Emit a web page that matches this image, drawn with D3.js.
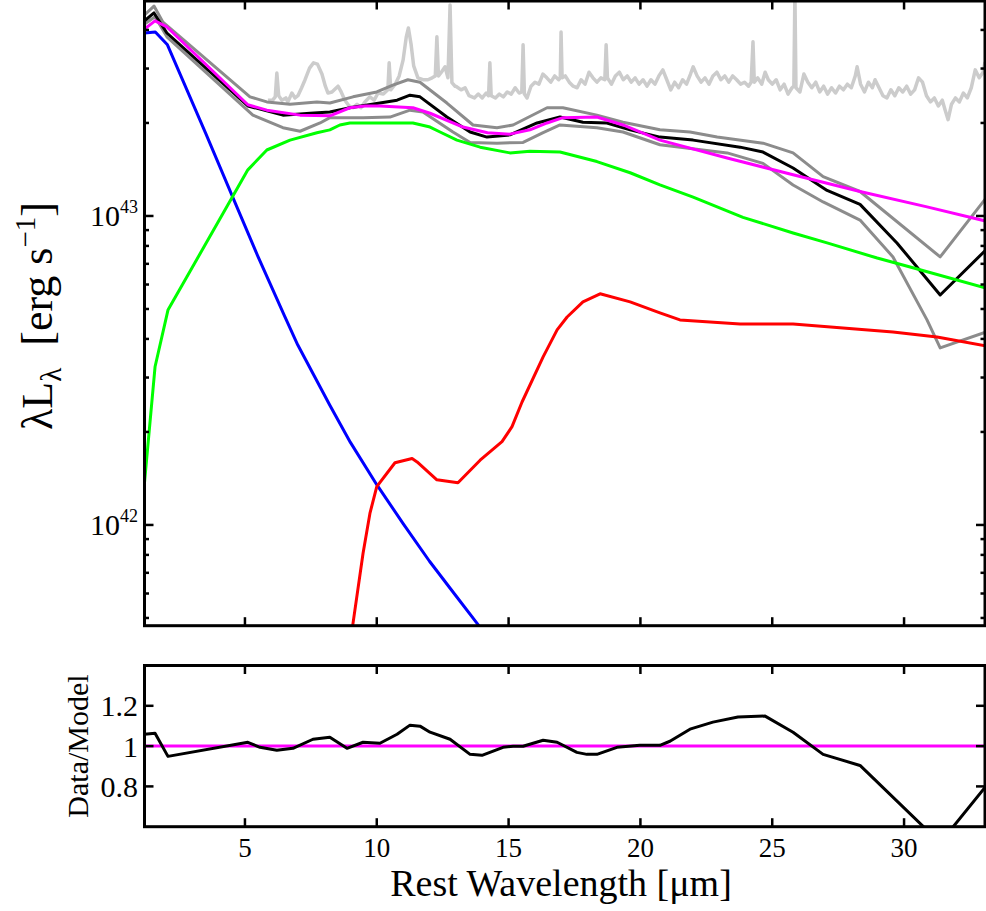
<!DOCTYPE html>
<html>
<head>
<meta charset="utf-8">
<script src="https://cdnjs.cloudflare.com/ajax/libs/d3/7.8.5/d3.min.js"></script>
<style>
  body { margin: 0; background: #fff; }
  text { font-family: "Liberation Serif", "DejaVu Serif", serif; fill: #000; }
</style>
</head>
<body>
<div id="chart"></div>
<script>
// luminosities are lambda*L_lambda in units of 1e43 erg/s, wavelengths in micron

// IRS spectrum (light grey)
var irsWave = [5.87, 6.05, 6.15, 6.21, 6.28, 6.40, 6.55, 6.63, 6.78, 6.9, 7.01, 7.15, 7.28, 7.45, 7.6, 7.75, 7.92, 8.05, 8.15, 8.3, 8.53, 8.65, 8.79, 8.95, 9.1, 9.25, 9.4, 9.55, 9.74, 9.9, 10.05, 10.25, 10.42, 10.47, 10.53, 10.7, 10.85, 11.0, 11.12, 11.2, 11.3, 11.4, 11.56, 11.75, 11.94, 12.1, 12.22, 12.28, 12.34, 12.45, 12.59, 12.7, 12.78, 12.85, 12.97,
  13.0, 13.2, 13.35, 13.5, 13.7, 13.85, 14.0, 14.15, 14.24, 14.29, 14.34, 14.5, 14.65, 14.8, 14.95, 15.1, 15.25, 15.4, 15.5, 15.55, 15.6, 15.7, 15.85, 16.0, 16.15, 16.3, 16.45, 16.6, 16.75, 16.9, 16.96, 16.99, 17.03, 17.15, 17.3, 17.45, 17.6, 17.75, 17.9, 18.05, 18.2, 18.35, 18.5, 18.65, 18.7, 18.75, 18.9, 19.05, 19.2, 19.35, 19.5, 19.65, 19.8, 19.95,
  20.1, 20.25, 20.4, 20.55, 20.7, 20.85, 21.0, 21.15, 21.3, 21.45, 21.6, 21.75, 21.9, 22.0, 22.15, 22.3, 22.45, 22.6, 22.75, 22.9, 23.05, 23.2, 23.35, 23.5, 23.65, 23.8, 23.95, 24.1, 24.2, 24.27, 24.32, 24.45, 24.6, 24.73, 24.85, 25.0, 25.15, 25.3, 25.45, 25.6, 25.75, 25.82, 25.86, 25.9, 26.05, 26.2, 26.35, 26.5, 26.65, 26.8, 26.95,
  27.1, 27.25, 27.4, 27.55, 27.7, 27.85, 28.0, 28.15, 28.22, 28.35, 28.5, 28.65, 28.8, 28.9, 29.05, 29.2, 29.35, 29.5, 29.65, 29.8, 29.95, 30.1, 30.25, 30.4, 30.55, 30.7, 30.85, 31.0, 31.15, 31.3, 31.45, 31.56, 31.67, 31.8, 31.95, 32.1, 32.25, 32.4, 32.55, 32.7, 32.85, 33.0, 33.07];
var irsLum = [2.37, 2.37, 2.43, 2.90, 2.45, 2.37, 2.41, 2.34, 2.50, 2.41, 2.45, 2.60, 2.76, 3.01, 3.13, 3.10, 2.88, 2.63, 2.50, 2.52, 2.63, 2.52, 2.37, 2.27, 2.24, 2.30, 2.24, 2.34, 2.43, 2.37, 2.50, 2.48, 2.56, 3.13, 2.56, 2.67, 2.84, 3.2, 3.8, 4.06, 3.6, 3.06, 2.80, 2.76, 2.76, 2.80, 2.84, 3.80, 2.84, 2.92, 3.04, 2.80, 4.82, 2.70, 2.63,
  2.63, 2.56, 2.60, 2.45, 2.41, 2.48, 2.41, 2.50, 2.45, 3.13, 2.45, 2.41, 2.48, 2.43, 2.52, 2.48, 2.60, 2.50, 2.52, 3.58, 2.48, 2.41, 2.63, 2.71, 2.67, 2.88, 2.80, 2.71, 2.84, 2.76, 2.80, 3.94, 2.80, 2.84, 2.71, 2.63, 2.60, 2.76, 2.67, 2.92, 2.80, 2.71, 2.80, 2.76, 3.58, 2.80, 2.67, 2.84, 2.92, 2.76, 2.84, 2.71, 2.80, 2.67,
  2.76, 2.63, 2.76, 2.67, 2.84, 2.97, 2.76, 2.56, 2.71, 2.60, 2.76, 2.67, 2.88, 3.04, 2.84, 2.71, 2.80, 2.67, 2.84, 2.92, 2.76, 2.84, 2.71, 2.84, 2.76, 2.67, 2.71, 2.63, 2.71, 3.66, 2.71, 2.80, 2.67, 2.92, 2.76, 2.67, 2.76, 2.56, 2.67, 2.48, 2.60, 2.63, 5.3, 2.60, 2.52, 2.88, 2.71, 2.60, 2.71, 2.52, 2.63,
  2.48, 2.60, 2.50, 2.63, 2.56, 2.67, 2.60, 2.84, 3.04, 2.67, 2.52, 2.71, 2.60, 2.76, 2.60, 2.45, 2.41, 2.56, 2.45, 2.60, 2.52, 2.63, 2.48, 2.56, 2.80, 2.71, 2.45, 2.34, 2.41, 2.27, 2.37, 2.20, 2.05, 2.30, 2.41, 2.34, 2.50, 2.41, 2.60, 2.97, 2.80, 2.92, 3.15];

// photometric SED (black) and its upper / lower envelopes (grey)
var sedWave = [1.19, 1.55, 2.04, 5.11, 6.44, 7.47, 8.22, 8.98, 10.12, 10.77, 11.26, 11.64, 12.66, 13.54, 14.18, 15.05, 16.08, 16.95, 17.82, 18.73, 19.61, 20.74, 22.0, 23.78, 24.65, 25.79, 27.08, 28.33, 29.73, 31.37, 33.1];
var sedLum = [4.28, 4.54, 3.91, 2.27, 2.12, 2.15, 2.17, 2.24, 2.32, 2.37, 2.46, 2.43, 2.09, 1.87, 1.80, 1.83, 2.00, 2.09, 2.01, 2.00, 1.90, 1.80, 1.76, 1.67, 1.61, 1.43, 1.21, 1.09, 0.818, 0.555, 0.776];

var upperWave = [1.19, 1.55, 1.89, 5.19, 5.83, 6.71, 7.73, 8.22, 9.10, 10.0, 10.61, 11.18, 11.64, 12.66, 13.65, 14.56, 15.17, 16.46, 17.06, 18.35, 19.34, 20.74, 21.88, 22.91, 24.65, 25.79, 26.93, 28.33, 31.37, 33.1];
var upperLum = [4.47, 4.78, 4.24, 2.43, 2.34, 2.30, 2.34, 2.32, 2.43, 2.52, 2.65, 2.76, 2.71, 2.32, 1.97, 1.93, 1.97, 2.24, 2.24, 2.12, 2.01, 1.90, 1.87, 1.80, 1.72, 1.60, 1.34, 1.20, 0.737, 1.14];

var lowerWave = [1.19, 1.59, 2.04, 5.30, 6.44, 7.09, 7.85, 8.22, 9.48, 10.50, 11.26, 11.75, 12.89, 13.54, 14.56, 15.55, 16.31, 16.95, 18.35, 19.34, 20.74, 23.29, 24.65, 25.79, 26.93, 28.33, 29.58, 30.87, 31.37, 33.1];
var lowerLum = [4.18, 4.41, 3.80, 2.12, 1.93, 1.88, 2.00, 2.08, 2.08, 2.09, 2.20, 2.17, 1.87, 1.73, 1.72, 1.73, 1.86, 1.97, 1.93, 1.87, 1.70, 1.60, 1.48, 1.26, 1.11, 0.97, 0.737, 0.461, 0.374, 0.421];

// model components
var starWave = [1.19, 1.6, 2.06, 3.5, 4.5, 5.5, 6.5, 7.0, 8.22, 9.0, 10.0, 11.0, 12.0, 13.0, 13.9, 14.5];
var starLum = [3.91, 3.94, 3.58, 1.86, 1.17, 0.737, 0.475, 0.383, 0.244, 0.185, 0.135, 0.101, 0.0763, 0.0590, 0.0469, 0.0404];

var agnWave = [1.19, 1.59, 2.08, 5.11, 5.83, 6.71, 7.73, 8.22, 8.6, 8.98, 11.37, 12.02, 12.40, 13.04, 13.92, 15.05, 15.81, 16.95, 18.35, 19.61, 20.74, 22.0, 23.89, 25.79, 27.08, 28.98, 30.23, 33.07];
var agnLum = [0.137, 0.325, 0.496, 1.41, 1.635, 1.76, 1.86, 1.90, 1.97, 2.00, 2.00, 1.94, 1.87, 1.76, 1.67, 1.60, 1.62, 1.61, 1.50, 1.38, 1.26, 1.15, 0.99, 0.881, 0.818, 0.731, 0.684, 0.585];

var sfWave = [9.0, 9.09, 9.48, 9.74, 10.0, 10.69, 11.34, 11.53, 12.28, 13.08, 13.92, 14.75, 15.13, 15.51, 16.31, 16.84, 17.22, 17.82, 18.47, 19.61, 20.74, 21.50, 23.78, 25.79, 29.58, 31.25, 33.1];
var sfLum = [0.042, 0.0475, 0.081, 0.109, 0.133, 0.159, 0.164, 0.160, 0.140, 0.137, 0.162, 0.186, 0.208, 0.250, 0.350, 0.428, 0.471, 0.527, 0.560, 0.527, 0.486, 0.461, 0.447, 0.447, 0.421, 0.406, 0.380];

var totalWave = [1.19, 1.59, 2.04, 5.11, 5.83, 7.09, 8.22, 8.98, 9.55, 10.12, 11.37, 12.02, 13.27, 14.2, 15.05, 15.81, 16.46, 17.06, 18.35, 19.34, 20.74, 23.29, 25.79, 28.33, 30.87, 33.1];
var totalLum = [4.03, 4.28, 4.09, 2.29, 2.20, 2.12, 2.11, 2.24, 2.27, 2.27, 2.24, 2.15, 1.94, 1.86, 1.84, 1.90, 2.00, 2.08, 2.09, 1.97, 1.76, 1.54, 1.36, 1.20, 1.07, 0.963];

// data / model ratio
var ratioWave = [1.19, 1.59, 2.08, 5.11, 5.57, 6.21, 6.82, 7.58, 8.22, 8.87, 9.48, 10.12, 10.77, 11.26, 11.64, 12.02, 12.78, 13.54, 13.99, 14.79, 15.17, 15.55, 16.31, 16.84, 17.59, 17.97, 18.35, 19.11, 19.98, 20.74, 21.12, 21.88, 22.75, 23.70, 24.73, 25.79, 26.93, 28.33, 31.37, 33.1];
var ratioVal = [1.059, 1.064, 0.949, 1.019, 0.994, 0.979, 0.989, 1.034, 1.044, 0.989, 1.019, 1.014, 1.059, 1.104, 1.099, 1.069, 1.034, 0.959, 0.954, 0.994, 0.999, 0.999, 1.029, 1.019, 0.969, 0.959, 0.959, 0.994, 1.004, 1.004, 1.024, 1.084, 1.119, 1.144, 1.149, 1.069, 0.959, 0.904, 0.52, 0.80];

// ticks
var xTicks = [5, 10, 15, 20, 25, 30];
var yMajor = [0.1, 1];
var yMajorExp = ["42", "43"];
var yMinor = [0.05, 0.06, 0.07, 0.08, 0.09, 0.2, 0.3, 0.4, 0.5, 0.6, 0.7, 0.8, 0.9, 2, 3, 4, 5];
var ratioTicks = [0.8, 1, 1.2];
var ratioLabels = ["0.8", "1", "1.2"];

var svgWidth = 986;
var svgHeight = 911;

// panel edges
var left = 144.5, right = 985;
var top1 = 1, bottom1 = 625.7;
var top2 = 665.5, bottom2 = 826.7;

var svg = d3.select("#chart")
  .append("svg")
  .attr("width", svgWidth)
  .attr("height", svgHeight);

var x = d3.scaleLinear().domain([1.19, 33.07]).range([left, right]);
var y = d3.scaleLog().domain([0.0472, 5]).range([bottom1, 0]);
var yr = d3.scaleLinear().domain([0.6, 1.4]).range([bottom2, top2]);

var defs = svg.append("defs");
defs.append("clipPath").attr("id", "clipTop")
  .append("rect").attr("x", left).attr("y", top1).attr("width", right - left).attr("height", bottom1 - top1);
defs.append("clipPath").attr("id", "clipBot")
  .append("rect").attr("x", left).attr("y", top2).attr("width", right - left).attr("height", bottom2 - top2);

var topGroup = svg.append("g").attr("clip-path", "url(#clipTop)");
var botGroup = svg.append("g").attr("clip-path", "url(#clipBot)");

function drawLine(g, xs, ys, yScale, color, width) {
  var line = d3.line()
    .x(d => x(d[0]))
    .y(d => yScale(d[1]));
  g.append("path")
    .datum(d3.zip(xs, ys))
    .attr("d", line)
    .attr("fill", "none")
    .attr("stroke", color)
    .attr("stroke-width", width)
    .attr("stroke-linejoin", "round");
}

// top panel curves
drawLine(topGroup, irsWave, irsLum, y, "#cccccc", 3.5);
drawLine(topGroup, upperWave, upperLum, y, "#8c8c8c", 3);
drawLine(topGroup, lowerWave, lowerLum, y, "#8c8c8c", 3);
drawLine(topGroup, sedWave, sedLum, y, "#000000", 3);
drawLine(topGroup, starWave, starLum, y, "#0000ff", 3);
drawLine(topGroup, agnWave, agnLum, y, "#00ff00", 3);
drawLine(topGroup, sfWave, sfLum, y, "#ff0000", 3);
drawLine(topGroup, totalWave, totalLum, y, "#ff00ff", 3);

// bottom panel
botGroup.append("line")
  .attr("x1", left).attr("x2", right)
  .attr("y1", yr(1)).attr("y2", yr(1))
  .attr("stroke", "#ff00ff").attr("stroke-width", 3);
drawLine(botGroup, ratioWave, ratioVal, yr, "#000000", 3);

// frames
[[top1, bottom1], [top2, bottom2]].forEach(function(p) {
  svg.append("rect")
    .attr("x", left).attr("y", p[0])
    .attr("width", right - left).attr("height", p[1] - p[0])
    .attr("fill", "none").attr("stroke", "#000").attr("stroke-width", 3);
});

// x ticks, inward on both edges of both panels
[[top1, 1], [bottom1, -1], [top2, 1], [bottom2, -1]].forEach(function(e) {
  svg.append("g").selectAll("line")
    .data(xTicks).enter().append("line")
    .attr("x1", d => x(d)).attr("x2", d => x(d))
    .attr("y1", e[0]).attr("y2", e[0] + e[1] * 8.5)
    .attr("stroke", "#000").attr("stroke-width", 2.5);
});

// y ticks on left and right
[[left, 1], [right, -1]].forEach(function(e) {
  var g = svg.append("g");
  g.selectAll("line.major").data(yMajor).enter().append("line")
    .attr("x1", e[0]).attr("x2", e[0] + e[1] * 9)
    .attr("y1", d => y(d)).attr("y2", d => y(d))
    .attr("stroke", "#000").attr("stroke-width", 2.5);
  g.selectAll("line.minor").data(yMinor).enter().append("line")
    .attr("x1", e[0]).attr("x2", e[0] + e[1] * 4.5)
    .attr("y1", d => y(d)).attr("y2", d => y(d))
    .attr("stroke", "#000").attr("stroke-width", 2.5);
  // ratio ticks
  g.selectAll("line.ratio").data(ratioTicks).enter().append("line")
    .attr("x1", e[0]).attr("x2", e[0] + e[1] * 9)
    .attr("y1", d => yr(d)).attr("y2", d => yr(d))
    .attr("stroke", "#000").attr("stroke-width", 2.5);
});

// y tick labels, 10^42 and 10^43
yMajor.forEach(function(v, i) {
  var t = svg.append("text")
    .attr("x", 138)
    .attr("y", y(v) + 10.5)
    .attr("text-anchor", "end")
    .style("font-size", "30px");
  t.append("tspan").text("10");
  t.append("tspan").attr("dy", -13).style("font-size", "18px").text(yMajorExp[i]);
});

// ratio tick labels
svg.selectAll("text.rlab")
  .data(ratioTicks).enter().append("text")
  .attr("class", "rlab")
  .attr("x", 138)
  .attr("y", d => yr(d) + 10.5)
  .attr("text-anchor", "end")
  .style("font-size", "30px")
  .text((d, i) => ratioLabels[i]);

// x tick labels
svg.selectAll("text.xlab")
  .data(xTicks).enter().append("text")
  .attr("class", "xlab")
  .attr("x", d => x(d))
  .attr("y", 857)
  .attr("text-anchor", "middle")
  .style("font-size", "27px")
  .text(d => d);

// axis titles
svg.append("text")
  .attr("x", 561)
  .attr("y", 896)
  .attr("text-anchor", "middle")
  .style("font-size", "38px")
  .text("Rest Wavelength [\u03bcm]");

var yTitle = svg.append("text")
  .attr("transform", "translate(52, 430) rotate(-90)")
  .style("font-size", "44px");
yTitle.append("tspan").text("\u03bbL");
yTitle.append("tspan").attr("dy", 9).style("font-size", "29px").text("\u03bb");
yTitle.append("tspan").attr("dy", -9).attr("dx", 22).text("[erg s");
yTitle.append("tspan").attr("dy", -17).style("font-size", "29px").text("\u22121");
yTitle.append("tspan").attr("dy", 17).text("]");

svg.append("text")
  .attr("transform", "translate(88, 746) rotate(-90)")
  .attr("text-anchor", "middle")
  .style("font-size", "30px")
  .text("Data/Model");
</script>
</body>
</html>
